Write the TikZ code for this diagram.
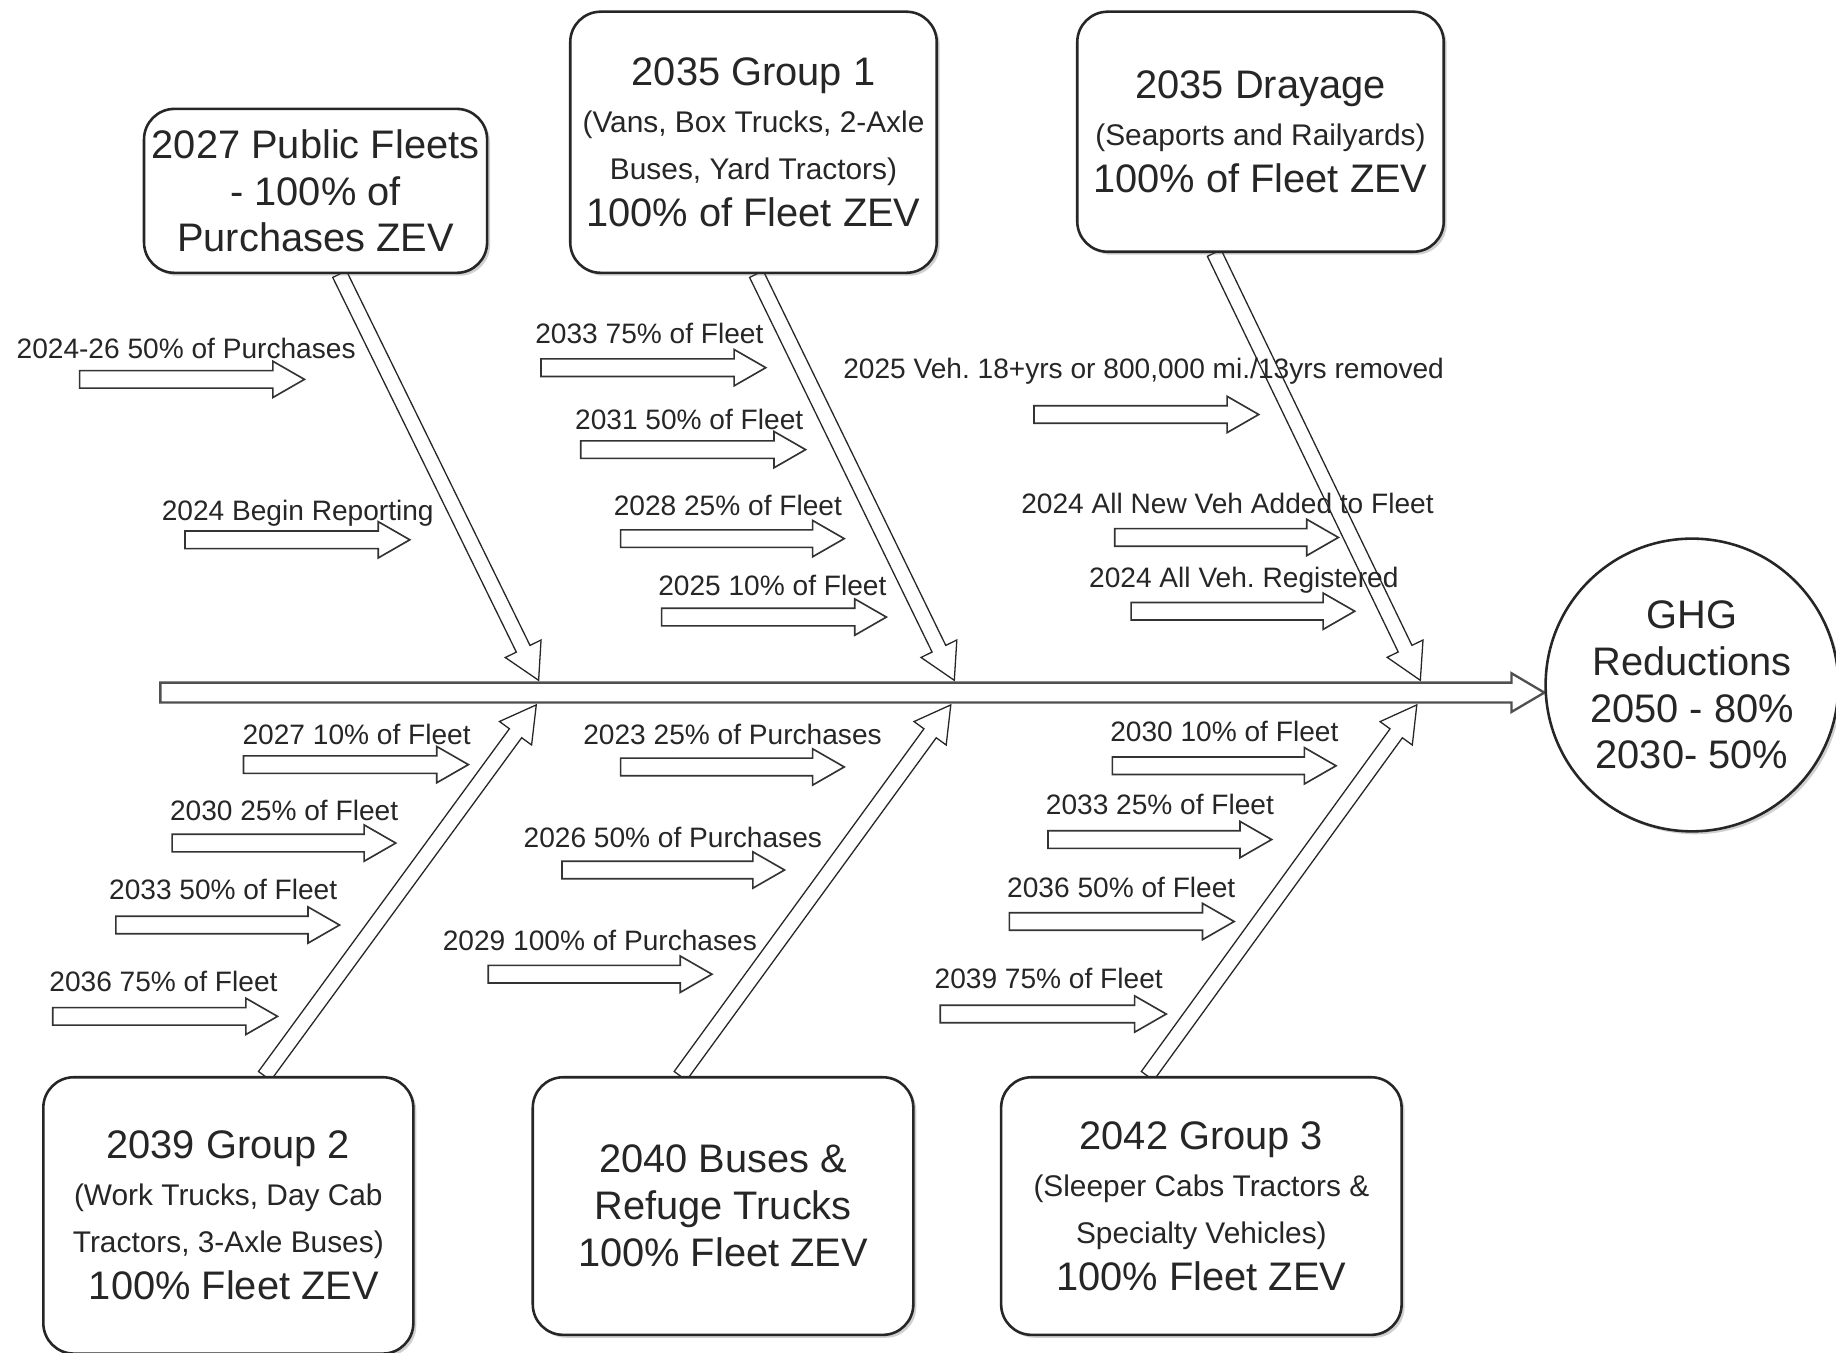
\documentclass[tikz,border=0pt]{standalone}
\usepackage{fontspec}
\setmainfont{Liberation Sans}
\usetikzlibrary{calc,shadows}
\definecolor{ink}{HTML}{262626}
\definecolor{linegray}{HTML}{333333}
\definecolor{spinegray}{HTML}{505050}
\pgfdeclarelayer{bg}
\pgfsetlayers{bg,main}
\frenchspacing
% hollow (outline) arrow from #2 to #3: shaft half width #4, head half width #5, head length #6
\newcommand{\hollowarrow}[6][]{%
  \path ($(#3)!#6!(#2)$) coordinate (hab);
  \draw[#1] ($(#2)!#4!90:(#3)$) -- ($(hab)!#4!90:(#3)$) -- ($(hab)!#5!90:(#3)$) -- (#3)
    -- ($(hab)!#5!-90:(#3)$) -- ($(hab)!#4!-90:(#3)$) -- ($(#2)!#4!-90:(#3)$) -- cycle;}
\newcommand{\smallarrow}[3]{\hollowarrow[sarrow]{#1,#2}{#3,#2}{7.5pt}{15.5pt}{27pt}}
\newcommand{\bone}[2]{\hollowarrow[bonestyle]{#1}{#2}{6.5pt}{17pt}{30pt}}
\newcommand{\medf}{\fontsize{25.5}{40}\selectfont}
\begin{document}
\begin{tikzpicture}[x=1pt,y=-1pt,
  box/.style={draw=ink, line width=2.2pt, rounded corners=26pt, fill=white, align=center,
    text=ink, inner sep=0pt, font=\fontsize{34}{40}\selectfont,
    drop shadow={shadow xshift=2.5pt, shadow yshift=-2.5pt, opacity=0.3, fill=black!60}},
  goal/.style={draw=ink, line width=2.2pt, circle, fill=white, align=center, text=ink,
    inner sep=0pt, minimum size=250pt, font=\fontsize{34}{40}\selectfont,
    drop shadow={shadow xshift=2.5pt, shadow yshift=-2.5pt, opacity=0.3, fill=black!60}},
  lbl/.style={anchor=base west, inner sep=0pt, text=ink, font=\fontsize{24}{28}\selectfont},
  sarrow/.style={draw=linegray, line width=1.4pt, line join=miter},
  bonestyle/.style={draw=ink, line width=1.1pt, line join=miter},
  spinestyle/.style={draw=spinegray, line width=2pt, line join=miter}]
\useasboundingbox (0,0) rectangle (1568,1155);
\begin{pgfonlayer}{bg}
\fill[white] (0,0) rectangle (1568,1155);
\end{pgfonlayer}

% cause boxes
\node[box, minimum width=293pt, minimum height=140pt] (pf) at (269.5,163)
  {2027 Public Fleets\\- 100\% of\\Purchases ZEV};
\node[box, minimum width=313pt, minimum height=223pt] (g1) at (643.5,121.5)
  {2035 Group 1\\{\medf (Vans, Box Trucks, 2-Axle}\\{\medf Buses, Yard Tractors)}\\100\% of Fleet ZEV};
\node[box, minimum width=313pt, minimum height=205pt] (dr) at (1076.5,112.5)
  {2035 Drayage\\{\medf (Seaports and Railyards)}\\100\% of Fleet ZEV};
\node[box, minimum width=316pt, minimum height=236pt] (g2) at (195,1038)
  {2039 Group 2\\{\medf (Work Trucks, Day Cab}\\{\medf Tractors, 3-Axle Buses)}\\\ 100\% Fleet ZEV};
\node[box, minimum width=325pt, minimum height=220pt] (bu) at (617.5,1030)
  {2040 Buses \&\\Refuge Trucks\\100\% Fleet ZEV};
\node[box, minimum width=342pt, minimum height=220pt] (g3) at (1026,1030)
  {2042 Group 3\\{\medf (Sleeper Cabs Tractors \&}\\{\medf Specialty Vehicles)}\\100\% Fleet ZEV};
% effect
\node[goal] (ghg) at (1445,585) {GHG\\Reductions\\2050 - 80\%\\2030- 50\%};

% spine and bone end points
\coordinate (spL) at (137,591.5);
\coordinate (spR) at (ghg.west |- spL);
\coordinate (b1s) at ($(pf.south)+(20.5,0)$);
\coordinate (b2s) at ($(g1.south)+(2.5,0)$);
\coordinate (b3s) at ($(dr.south)+(-39.5,0)$);
\coordinate (b4s) at ($(g2.north)+(31,0)$);
\coordinate (b5s) at ($(bu.north)+(-36.5,0)$);
\coordinate (b6s) at ($(g3.north)+(-46,0)$);
\coordinate (t1) at (460,581);
\coordinate (t2) at (815,581);
\coordinate (t3) at (1213,581);
\coordinate (t4) at (458,602);
\coordinate (t5) at (812,602);
\coordinate (t6) at (1210,602);

\begin{pgfonlayer}{bg}
\hollowarrow[spinestyle]{spL}{spR}{8.5pt}{16.5pt}{28pt}
\bone{b1s}{t1}
\bone{b2s}{t2}
\bone{b3s}{t3}
\bone{b4s}{t4}
\bone{b5s}{t5}
\bone{b6s}{t6}
\end{pgfonlayer}

% upper left
\node[lbl] (l1) at (14,306.5) {2024-26 50\% of Purchases};
\smallarrow{68}{324}{260}
\node[lbl] (l2) at (138,444.5) {2024 Begin Reporting};
\smallarrow{158}{461}{350}
% upper middle
\node[lbl] (l3) at (457,293.5) {2033 75\% of Fleet};
\smallarrow{462}{314}{654}
\node[lbl] (l4) at (491,366.5) {2031 50\% of Fleet};
\smallarrow{496}{384}{688}
\node[lbl] (l5) at (524,440.5) {2028 25\% of Fleet};
\smallarrow{530}{460}{721}
\node[lbl] (l6) at (562,508.5) {2025 10\% of Fleet};
\smallarrow{565}{527}{757}
% upper right
\node[lbl] (l7) at (720,323.5) {2025 Veh. 18+yrs or 800,000 mi./13yrs removed};
\smallarrow{883}{354}{1075}
\node[lbl] (l8) at (872,438.5) {2024 All New Veh Added to Fleet};
\smallarrow{952}{459}{1143}
\node[lbl] (l9) at (930,501.5) {2024 All Veh. Registered};
\smallarrow{966}{522}{1157}
% lower left
\node[lbl] (l10) at (207,635.5) {2027 10\% of Fleet};
\smallarrow{208}{653}{400}
\node[lbl] (l11) at (145,700.5) {2030 25\% of Fleet};
\smallarrow{147}{720}{338}
\node[lbl] (l12) at (93,768.5) {2033 50\% of Fleet};
\smallarrow{99}{790}{290}
\node[lbl] (l13) at (42,846.5) {2036 75\% of Fleet};
\smallarrow{45}{868}{237}
% lower middle
\node[lbl] (l14) at (498,635.5) {2023 25\% of Purchases};
\smallarrow{530}{655}{721}
\node[lbl] (l15) at (447,723.5) {2026 50\% of Purchases};
\smallarrow{480}{743}{670}
\node[lbl] (l16) at (378,811.5) {2029 100\% of Purchases};
\smallarrow{417}{832}{608}
% lower right
\node[lbl] (l17) at (948,633.5) {2030 10\% of Fleet};
\smallarrow{950}{654}{1141}
\node[lbl] (l18) at (893,695.5) {2033 25\% of Fleet};
\smallarrow{895}{717}{1086}
\node[lbl] (l19) at (860,766.5) {2036 50\% of Fleet};
\smallarrow{862}{787}{1054}
\node[lbl] (l20) at (798,844.5) {2039 75\% of Fleet};
\smallarrow{803}{866}{996}
\end{tikzpicture}
\end{document}
